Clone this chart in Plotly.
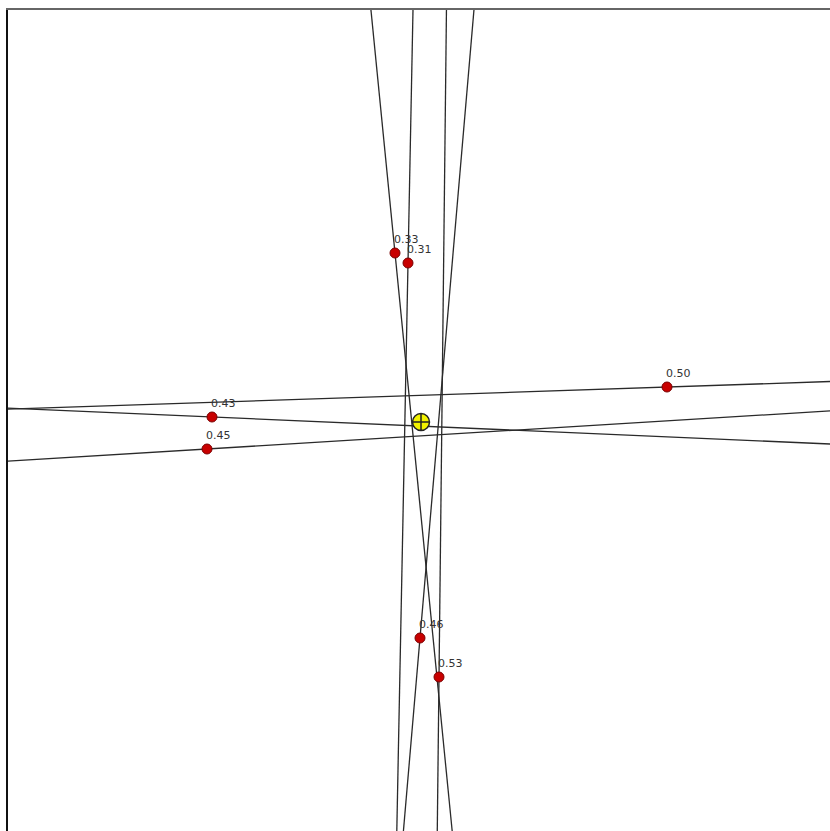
import math
import plotly.graph_objects as go

# Receiver stations (map units), their measured bearings (deg, clockwise from north)
# and the quality value printed beside each station.
station_x = [387, 400, 412, 431, 204, 199, 659]
station_y = [578, 568, 193, 154, 414, 382, 444]
bearings = [354.35, 1.13, 4.91, 0.64, 92.5, 86.5, 88.07]
quality = ["0.33", "0.31", "0.46", "0.53", "0.43", "0.45", "0.50"]

# Estimated source location
source_x = [413]
source_y = [409]

X_RANGE = [0, 822]
Y_RANGE = [0, 821]

fig = go.Figure()

# Bearing lines: extend each line far in both directions, the axes clip them
reach = 3000
for sx, sy, b in zip(station_x, station_y, bearings):
    ux, uy = math.sin(math.radians(b)), math.cos(math.radians(b))
    fig.add_trace(go.Scatter(
        x=[sx - reach * ux, sx + reach * ux],
        y=[sy - reach * uy, sy + reach * uy],
        mode="lines",
        line=dict(color="#2a2a2a", width=1.3),
        hoverinfo="skip",
        showlegend=False,
    ))

# Stations
fig.add_trace(go.Scatter(
    x=station_x, y=station_y, mode="markers",
    marker=dict(size=10, color="#c80000", line=dict(color="#7a0000", width=1)),
    showlegend=False,
))

# Source estimate
fig.add_trace(go.Scatter(
    x=source_x, y=source_y, mode="markers",
    marker=dict(symbol="circle-cross", size=17, color="#f2f200",
                line=dict(color="#222222", width=1.5)),
    showlegend=False,
))

for sx, sy, q in zip(station_x, station_y, quality):
    fig.add_annotation(
        x=sx, y=sy, text=q, showarrow=False,
        xanchor="left", yanchor="bottom", xshift=-3, yshift=5,
        font=dict(family="DejaVu Sans", size=11, color="#333333"),
    )

fig.update_xaxes(range=X_RANGE, showgrid=False, zeroline=False, showticklabels=False,
                 ticks="", side="top", showline=True, linecolor="#666666", linewidth=2)
fig.update_yaxes(range=Y_RANGE, showgrid=False, zeroline=False, showticklabels=False,
                 ticks="", showline=True, linecolor="#111111", linewidth=2)

fig.update_layout(
    width=830, height=831,
    margin=dict(l=8, r=0, t=10, b=0),
    plot_bgcolor="white", paper_bgcolor="white",
)

fig.write_html("out.html")
